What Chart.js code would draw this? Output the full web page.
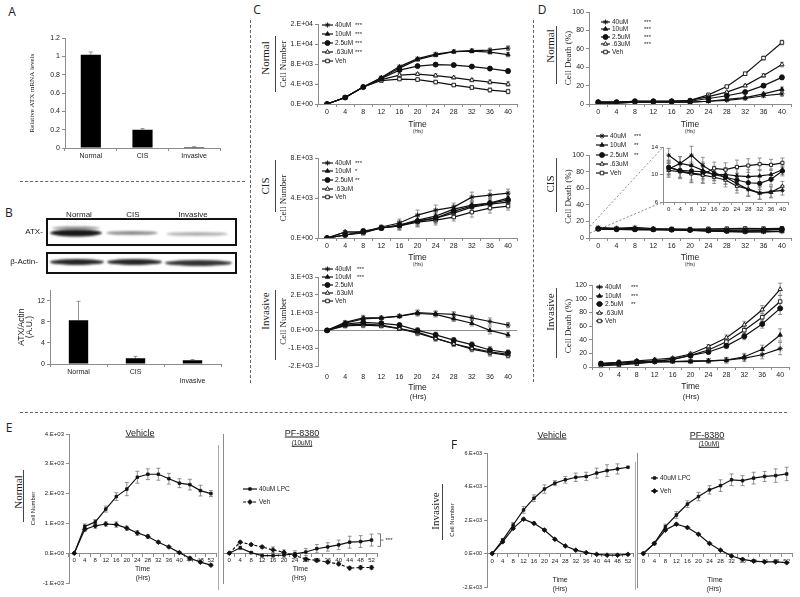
<!DOCTYPE html>
<html>
<head>
<meta charset="utf-8">
<script src="https://cdn.jsdelivr.net/npm/chart.js@4.4.1/dist/chart.umd.min.js"></script>
<style>
  html, body { margin: 0; padding: 0; background: #fff; }
  #page { position: relative; width: 800px; height: 597px; overflow: hidden; color: #222; }
  #page canvas { position: absolute; }
  .t { position: absolute; white-space: nowrap; line-height: 1; }
</style>
</head>
<body>
<div id="page"></div>
<script>
// ---------- data ----------
var hrs40 = ['0','4','8','12','16','20','24','28','32','36','40'];
var hrs52 = ['0','4','8','12','16','20','24','28','32','36','40','44','48','52'];
var doseLabels = ['40uM', '10uM', '2.5uM', '.63uM', 'Veh'];
var lpcLabels = ['40uM LPC', 'Veh'];

// A - ATX mRNA
var mrnaCats = ['Normal', 'CIS', 'Invasive'];
var mrnaVals = [1.02, 0.20, 0.01];
var mrnaErr = [0.03, 0.012, 0.004];

// B - ATX / actin densitometry
var blotCats = ['Normal', 'CIS', 'Invasive'];
var blotVals = [8.3, 1.1, 0.7];
var blotErr = [3.6, 0.35, 0.15];

// C - cell number
var cNormal40 = [0, 1300, 3400, 5300, 7500, 9100, 10000, 10500, 10700, 10800, 11200];
var cNormal10 = [0, 1300, 3400, 5200, 7200, 8900, 9800, 10500, 10600, 10400, 9900];
var cNormal25 = [0, 1300, 3400, 5100, 6800, 7600, 7900, 7800, 7500, 7100, 6600];
var cNormal063 = [0, 1300, 3400, 4900, 5800, 6000, 5700, 5300, 4800, 4400, 4000];
var cNormalVeh = [0, 1300, 3400, 4700, 5000, 4900, 4400, 3800, 3300, 2800, 2500];
var cNormalErr = [0, 200, 200, 250, 300, 300, 350, 300, 350, 400, 450];

var cCis40 = [0, 600, 600, 1100, 1500, 2300, 2800, 3100, 4100, 4300, 4500];
var cCis10 = [0, 300, 600, 1000, 1300, 1800, 2200, 2900, 3300, 3500, 4000];
var cCis25 = [0, 300, 700, 1000, 1300, 1700, 2000, 2700, 3200, 3500, 3800];
var cCis063 = [0, 600, 600, 1000, 1200, 1700, 2000, 2500, 3100, 3400, 3600];
var cCisVeh = [0, 300, 500, 1000, 1200, 1600, 1800, 2100, 2600, 3000, 3200];
var cCisErr = [0, 150, 200, 200, 400, 500, 500, 400, 500, 500, 400];

var cInv40 = [0, 450, 700, 700, 800, 1000, 950, 900, 700, 500, 300];
var cInv10 = [0, 400, 650, 700, 800, 950, 900, 650, 400, 0, -250];
var cInv25 = [0, 350, 450, 400, 300, 0, -250, -550, -800, -1100, -1250];
var cInv063 = [0, 300, 350, 300, 100, -100, -450, -750, -1000, -1200, -1350];
var cInvVeh = [0, 250, 300, 250, 100, -150, -450, -750, -1050, -1250, -1400];
var cInvErr = [0, 100, 150, 100, 100, 150, 150, 150, 150, 200, 150];

// D - cell death (%)
var dNormal40 = [1, 1, 2, 2, 2, 2, 3, 4, 6, 9, 11];
var dNormal10 = [1, 1, 2, 2, 2, 2, 3, 5, 7, 11, 16];
var dNormal25 = [2, 2, 3, 3, 3, 3, 6, 9, 13, 20, 29];
var dNormal063 = [2, 2, 3, 3, 3, 4, 8, 13, 20, 31, 43];
var dNormalVeh = [2, 2, 3, 3, 3, 4, 10, 19, 33, 50, 67];
var dNormalErr = [0.5, 0.5, 0.5, 0.5, 0.5, 1, 1, 1, 1.5, 2, 2.5];

var dCis40 = [12.8, 11.6, 12.8, 11.3, 10.3, 9.6, 8.7, 7.8, 7.3, 7.5, 7.7];
var dCis10 = [10.8, 11.6, 11.3, 10.6, 10.0, 10.0, 9.8, 9.7, 9.8, 10.0, 10.7];
var dCis25 = [11.0, 10.6, 10.5, 10.4, 10.0, 9.6, 9.2, 8.8, 8.7, 9.3, 10.5];
var dCis063 = [10.6, 10.4, 10.1, 9.9, 9.6, 9.2, 8.3, 7.9, 7.3, 7.4, 8.3];
var dCisVeh = [11.1, 10.5, 10.2, 10.0, 10.9, 10.7, 11.1, 11.3, 11.5, 11.4, 11.7];
var dCisErr = [1.0, 1.0, 1.3, 1.2, 0.9, 1.0, 1.0, 1.0, 0.9, 0.8, 0.7];

var dInv40 = [3, 4, 6, 7, 8, 9, 9, 10, 13, 18, 27];
var dInv10 = [5, 6, 7, 8, 8, 8, 9, 10, 15, 26, 47];
var dInv25 = [5, 6, 8, 9, 11, 17, 22, 31, 45, 63, 86];
var dInv063 = [5, 7, 9, 11, 13, 19, 30, 43, 62, 84, 114];
var dInvVeh = [2, 3, 5, 8, 11, 17, 25, 37, 54, 73, 96];
var dInvErr = [3, 3, 2, 2, 2, 3, 3, 4, 5, 6, 9];

// E - normal cells, LPC rescue
var eVehLpc = [0, 900, 1050, 1480, 1900, 2150, 2550, 2650, 2650, 2500, 2350, 2300, 2100, 2000];
var eVehLpcErr = [0, 80, 80, 100, 130, 220, 200, 180, 200, 180, 150, 180, 180, 100];
var eVehVeh = [0, 800, 920, 980, 960, 840, 680, 560, 370, 210, 20, -170, -300, -400];
var eVehVehErr = [0, 60, 80, 70, 90, 70, 80, 60, 40, 30, 30, 50, 40, 40];
var ePfLpc = [0, 180, 20, -80, -80, -60, -20, 40, 150, 210, 280, 370, 390, 440];
var ePfLpcErr = [0, 60, 40, 60, 80, 80, 100, 120, 140, 140, 160, 200, 200, 200];
var ePfVeh = [0, 370, 290, 210, 110, 30, -80, -200, -240, -300, -360, -500, -480, -480];
var ePfVehErr = [0, 40, 40, 50, 100, 80, 80, 60, 60, 50, 60, 60, 60, 60];

// F - invasive cells, LPC rescue
var fVehLpc = [0, 800, 1700, 2600, 3300, 3850, 4200, 4400, 4550, 4600, 4800, 4950, 5050, 5150];
var fVehLpcErr = [0, 100, 150, 200, 200, 250, 150, 200, 250, 250, 300, 350, 300, 0];
var fVehVeh = [0, 700, 1500, 2050, 1800, 1400, 850, 450, 200, 50, -50, -100, -100, -50];
var fVehVehErr = [0, 50, 60, 60, 80, 80, 60, 50, 40, 30, 30, 30, 30, 30];
var fPfLpc = [0, 600, 1600, 2300, 2950, 3400, 3800, 4050, 4400, 4350, 4500, 4600, 4650, 4750];
var fPfLpcErr = [0, 80, 150, 200, 200, 250, 250, 350, 350, 300, 350, 300, 400, 400];
var fPfVeh = [0, 600, 1400, 1750, 1550, 1150, 600, 200, -150, -350, -450, -500, -500, -550];
var fPfVehErr = [0, 50, 60, 60, 60, 40, 40, 40, 40, 50, 50, 40, 40, 40];

// ---------- setup ----------
var AXIS = '#8c8c8c', INK = '#111', TXT = '#222', ERRC = '#777';
var SANS = "'Liberation Sans', Arial, sans-serif";
var SERIF = "'Liberation Serif', 'Times New Roman', serif";
var page = document.getElementById('page');

Chart.defaults.font.family = SANS;
Chart.defaults.font.size = 7;
Chart.defaults.color = TXT;

function fmtE(v) {
  if (v === 0) return '0.E+00';
  var e = Math.floor(Math.log10(Math.abs(v)));
  var m = Math.round(v / Math.pow(10, e));
  if (Math.abs(m) === 10) { m = m / 10; e += 1; }
  return m + '.E' + (e < 0 ? '-' : '+') + String(Math.abs(e)).padStart(2, '0');
}

function addCanvas(left, top, w, h) {
  var c = document.createElement('canvas');
  c.width = w; c.height = h;
  c.style.left = left + 'px'; c.style.top = top + 'px';
  c.style.width = w + 'px'; c.style.height = h + 'px';
  page.appendChild(c);
  return c;
}

function txt(s, x, y, size, o) {
  o = o || {};
  var d = document.createElement('div');
  d.className = 't';
  d.textContent = s;
  d.style.left = x + 'px'; d.style.top = y + 'px';
  d.style.fontSize = size + 'px';
  d.style.fontFamily = o.serif ? SERIF : (o.font || SANS);
  d.style.transform = 'translate(-50%,-50%)' + (o.rot ? ' rotate(-90deg)' : '');
  if (o.u) d.style.textDecoration = 'underline';
  page.appendChild(d);
}

function rule(x1, y1, x2, y2, o) {
  o = o || {};
  var d = document.createElement('div');
  d.style.position = 'absolute';
  var st = (o.dash ? 'dashed ' : 'solid ') + (o.c || '#555');
  if (y1 === y2) {
    d.style.left = x1 + 'px'; d.style.top = y1 + 'px'; d.style.width = (x2 - x1) + 'px';
    d.style.borderTop = (o.w || 1) + 'px ' + st;
  } else {
    d.style.left = x1 + 'px'; d.style.top = y1 + 'px'; d.style.height = (y2 - y1) + 'px';
    d.style.borderLeft = (o.w || 1) + 'px ' + st;
  }
  page.appendChild(d);
}

// error bars, inline legends and small annotations
var extras = {
  id: 'extras',
  beforeDatasetsDraw: function(chart) {
    var ctx = chart.ctx, ys = chart.scales.y;
    chart.data.datasets.forEach(function(ds, di) {
      if (!ds.err) return;
      var meta = chart.getDatasetMeta(di);
      meta.data.forEach(function(el, i) {
        var e = ds.err[i];
        if (!e) return;
        var v = ds.data[i];
        var yTop = ys.getPixelForValue(v + e);
        var yBot = ds.errUp ? el.y : ys.getPixelForValue(v - e);
        ctx.save();
        ctx.strokeStyle = ERRC; ctx.lineWidth = 0.8;
        ctx.beginPath();
        ctx.moveTo(el.x, yTop); ctx.lineTo(el.x, yBot);
        ctx.moveTo(el.x - 2, yTop); ctx.lineTo(el.x + 2, yTop);
        if (!ds.errUp) { ctx.moveTo(el.x - 2, yBot); ctx.lineTo(el.x + 2, yBot); }
        ctx.stroke();
        ctx.restore();
      });
    });
  },
  afterDraw: function(chart, args, o) {
    if (!o) return;
    var ctx = chart.ctx, ox = o.ox || 0, oy = o.oy || 0;
    if (o.legend) {
      var L = o.legend;
      chart.data.datasets.forEach(function(ds, i) {
        var y = L.rows[i] - oy, x0 = L.x0 - ox, x1 = L.x1 - ox;
        ctx.save();
        ctx.strokeStyle = ds.borderColor; ctx.lineWidth = ds.borderWidth;
        ctx.setLineDash(ds.borderDash || []);
        ctx.beginPath(); ctx.moveTo(x0, y); ctx.lineTo(x1, y); ctx.stroke();
        ctx.setLineDash([]);
        ctx.fillStyle = ds.pointBackgroundColor; ctx.strokeStyle = ds.pointBorderColor;
        ctx.lineWidth = ds.pointBorderWidth;
        Chart.helpers.drawPoint(ctx, { pointStyle: ds.pointStyle, radius: ds.pointRadius, borderWidth: ds.pointBorderWidth, rotation: 0 }, (x0 + x1) / 2, y);
        ctx.fillStyle = TXT; ctx.textBaseline = 'middle'; ctx.textAlign = 'left';
        ctx.font = (L.size || 6.5) + 'px ' + SANS;
        ctx.fillText(ds.label, L.tx - ox, y);
        if (L.stars && L.stars[i]) {
          ctx.font = '6px ' + SANS;
          ctx.fillText(L.stars[i], L.sx - ox, y);
        }
        ctx.restore();
      });
    }
    if (o.bracket) {
      var b = o.bracket, ys = chart.scales.y;
      var el = chart.getDatasetMeta(0).data[b.index];
      var x = el.x + 6, yh = ys.getPixelForValue(b.hi), yl = ys.getPixelForValue(b.lo), ym = (yh + yl) / 2;
      ctx.save();
      ctx.strokeStyle = '#555'; ctx.lineWidth = 0.8;
      ctx.beginPath();
      ctx.moveTo(x, yh); ctx.lineTo(x + 3, yh); ctx.lineTo(x + 3, yl); ctx.lineTo(x, yl);
      ctx.moveTo(x + 3, ym); ctx.lineTo(x + 6, ym);
      ctx.stroke();
      ctx.fillStyle = TXT; ctx.font = '6px ' + SANS; ctx.textBaseline = 'middle';
      ctx.fillText(b.text, x + 8, ym);
      ctx.restore();
    }
    if (o.zoom) {
      var z = o.zoom, ys2 = chart.scales.y, xl = chart.chartArea.left + 1;
      ctx.save();
      ctx.strokeStyle = '#555'; ctx.lineWidth = 0.7; ctx.setLineDash([2, 2]);
      ctx.beginPath();
      ctx.moveTo(xl, ys2.getPixelForValue(z.hi)); ctx.lineTo(z.top[0] - ox, z.top[1] - oy);
      ctx.moveTo(xl, ys2.getPixelForValue(z.lo)); ctx.lineTo(z.bot[0] - ox, z.bot[1] - oy);
      ctx.stroke();
      ctx.restore();
    }
  }
};
Chart.register(extras);

function lineChart(g, labels, datasets, extra) {
  var zero = !!g.zeroAxis;
  var pad = { left: 2, top: g.padT || 6, right: g.padR || 4, bottom: zero ? (g.padB || 10) : 0 };
  var left = Math.round(g.L - g.yW - pad.left);
  var top = Math.round(g.T - pad.top);
  var right = Math.round(g.R + pad.right);
  var bottom = Math.round(zero ? g.B + pad.bottom : g.B + g.xH);
  var cv = addCanvas(left, top, right - left, bottom - top);
  var ex = Object.assign({ ox: left, oy: top }, extra || {});
  return new Chart(cv, {
    type: 'line',
    data: { labels: labels, datasets: datasets },
    options: {
      responsive: false, animation: false, devicePixelRatio: 1,
      layout: { padding: pad },
      plugins: { legend: { display: false }, tooltip: { enabled: false }, extras: ex },
      scales: {
        x: {
          type: 'category', offset: true,
          position: zero ? { y: 0 } : 'bottom',
          afterFit: function(s) { s.height = g.xH; },
          border: { display: g.xBorder !== false, color: AXIS, width: 1 },
          grid: { display: g.xGrid !== false, drawOnChartArea: false, offset: true, tickLength: 3, color: AXIS },
          ticks: { font: { family: SANS, size: g.xFont || 7 }, color: TXT, padding: g.xPad != null ? g.xPad : 1, maxRotation: 0, autoSkip: false },
          title: { display: !!g.xTitle, text: g.xTitle, font: { family: SANS, size: g.xtSize || 8.5 }, color: TXT, padding: 0 }
        },
        y: {
          min: g.min, max: g.max,
          afterFit: function(s) { s.width = g.yW; },
          border: { color: AXIS, width: 1 },
          grid: {
            drawOnChartArea: !!g.zeroLine, drawTicks: g.yTicks !== false, tickLength: 3, tickColor: AXIS,
            color: function(c) { return (c.tick && c.tick.value === 0) ? AXIS : 'rgba(0,0,0,0)'; }
          },
          ticks: { display: g.yTicks !== false, stepSize: g.step, callback: g.fmt || function(v) { return v; }, font: { family: SANS, size: g.yFont || 7 }, color: TXT, padding: 2 },
          title: { display: !!g.yTitle, text: g.yTitle, font: g.ytFont, color: TXT, padding: 0 }
        }
      }
    }
  });
}

function barChart(g, labels, vals, errs) {
  var pad = { left: 2, top: 6, right: 4, bottom: 0 };
  var left = Math.round(g.L - g.yW - pad.left), top = Math.round(g.T - pad.top);
  var cv = addCanvas(left, top, Math.round(g.R + pad.right) - left, Math.round(g.B + g.xH) - top);
  return new Chart(cv, {
    type: 'bar',
    data: { labels: labels, datasets: [{ data: vals, err: errs, errUp: true, backgroundColor: '#000', barPercentage: g.bp, categoryPercentage: 1 }] },
    options: {
      responsive: false, animation: false, devicePixelRatio: 1,
      layout: { padding: pad },
      plugins: { legend: { display: false }, tooltip: { enabled: false }, extras: { ox: left, oy: top } },
      scales: {
        x: {
          afterFit: function(s) { s.height = g.xH; },
          border: { color: AXIS },
          grid: { drawOnChartArea: false, offset: true, tickLength: 3, color: AXIS },
          ticks: { font: { size: 7 }, color: TXT, padding: 1, maxRotation: 0 }
        },
        y: {
          min: 0, max: g.max,
          afterFit: function(s) { s.width = g.yW; },
          border: { color: AXIS },
          grid: { drawOnChartArea: false, tickLength: 3, color: AXIS },
          ticks: { stepSize: g.step, font: { size: 7 }, color: TXT, padding: 2, callback: function(v) { return String(Math.round(v * 10) / 10); } },
          title: { display: true, text: g.yTitle, font: g.ytFont, color: TXT, padding: 0 }
        }
      }
    }
  });
}

var doseMarks = ['star', 'triangle', 'circle', 'triangle', 'rect'];
var doseFill = ['#111', '#111', '#111', '#fff', '#fff'];
function doseSets(series, err, r) {
  return series.map(function(d, i) {
    return {
      label: doseLabels[i], data: d, err: err,
      borderColor: INK, borderWidth: 1.2, tension: 0,
      pointStyle: doseMarks[i], pointBackgroundColor: doseFill[i], pointBorderColor: INK,
      pointBorderWidth: 0.9, pointRadius: r || 2.5
    };
  });
}
function lpcSets(lpc, lpcErr, veh, vehErr, dashed) {
  return [
    { label: lpcLabels[0], data: lpc, err: lpcErr, borderColor: INK, borderWidth: 1.2, tension: 0,
      pointStyle: 'rect', pointBackgroundColor: INK, pointBorderColor: INK, pointBorderWidth: 0.8, pointRadius: 1.8 },
    { label: lpcLabels[1], data: veh, err: vehErr, borderColor: INK, borderWidth: 1.2, tension: 0,
      borderDash: dashed ? [3, 2] : [],
      pointStyle: 'rectRot', pointBackgroundColor: INK, pointBorderColor: INK, pointBorderWidth: 0.8, pointRadius: 2.4 }
  ];
}

var serif9 = { family: SERIF, size: 9 };

// ---------- panel A ----------
barChart({ L: 65, R: 220, T: 38, B: 148, yW: 37, xH: 16, max: 1.2, step: 0.2, bp: 0.39,
  yTitle: 'Relative ATX mRNA levels', ytFont: { family: SERIF, size: 7 } }, mrnaCats, mrnaVals, mrnaErr);

// ---------- panel B ----------
(function() {
  var left = 40, top = 212;
  var c = addCanvas(left, top, 200, 66);
  var ctx = c.getContext('2d');
  function band(x1, x2, y, h, a) {
    ctx.save();
    ctx.filter = 'blur(1.3px)';
    ctx.fillStyle = 'rgba(0,0,0,' + a + ')';
    ctx.beginPath();
    ctx.ellipse((x1 + x2) / 2 - left, y - top, (x2 - x1) / 2, h / 2, 0, 0, Math.PI * 2);
    ctx.fill();
    ctx.restore();
  }
  band(52, 100, 228, 3, 0.45);
  band(50, 102, 233, 7, 0.9);
  band(106, 158, 233, 4, 0.45);
  band(166, 228, 234, 4, 0.3);
  band(50, 104, 262, 6, 0.85);
  band(107, 162, 262, 6, 0.85);
  band(165, 232, 263, 6, 0.8);
  ctx.strokeStyle = '#111'; ctx.lineWidth = 2;
  ctx.strokeRect(47 - left, 219 - top, 189, 26);
  ctx.strokeRect(47 - left, 253 - top, 189, 20);
})();
barChart({ L: 50, R: 221, T: 290, B: 364, yW: 32, xH: 24, max: 14, step: 2, bp: 0.34,
  yTitle: ['ATX/Actin', '(A.U.)'], ytFont: { family: SANS, size: 8.5, lineHeight: 0.95 } },
  blotCats.map(function(c, i) { return i === 2 ? ['', c] : c; }), blotVals, blotErr);

// ---------- panel C ----------
lineChart({ L: 318, R: 518, T: 24, B: 104, yW: 40, xH: 26, min: 0, max: 16000, step: 4000, fmt: fmtE,
  xTitle: 'Time', yTitle: 'Cell Number', ytFont: serif9 }, hrs40,
  doseSets([cNormal40, cNormal10, cNormal25, cNormal063, cNormalVeh], cNormalErr),
  { legend: { rows: [25, 34, 43, 52, 61], x0: 322, x1: 333, tx: 335, sx: 355, stars: ['***', '***', '***', '***', ''] } });

lineChart({ L: 318, R: 518, T: 158, B: 238, yW: 40, xH: 25, min: 0, max: 8000, step: 4000, fmt: fmtE,
  xTitle: 'Time', yTitle: 'Cell Number', ytFont: serif9 }, hrs40,
  doseSets([cCis40, cCis10, cCis25, cCis063, cCisVeh], cCisErr),
  { legend: { rows: [163, 171, 180, 189, 197], x0: 322, x1: 333, tx: 335, sx: 355, stars: ['***', '*', '**', '', ''] } });

lineChart({ L: 318, R: 518, T: 277, B: 366, yW: 40, xH: 27, padT: 14, min: -2000, max: 3000, step: 1000, fmt: fmtE,
  xBorder: false, xGrid: false, xPad: 4, zeroLine: true,
  xTitle: 'Time', yTitle: 'Cell Number', ytFont: serif9 }, hrs40,
  doseSets([cInv40, cInv10, cInv25, cInv063, cInvVeh], cInvErr),
  { legend: { rows: [269, 277, 285, 293, 301], x0: 322, x1: 333, tx: 335, sx: 357, stars: ['***', '***', '', '', ''] } });

// ---------- panel D ----------
lineChart({ L: 589, R: 792, T: 12, B: 104, yW: 26, xH: 26, min: 0, max: 100, step: 20,
  xTitle: 'Time', yTitle: 'Cell Death (%)', ytFont: serif9 }, hrs40,
  doseSets([dNormal40, dNormal10, dNormal25, dNormal063, dNormalVeh], dNormalErr),
  { legend: { rows: [22, 29, 37, 44, 52], x0: 601, x1: 610, tx: 612, sx: 644, stars: ['***', '***', '***', '***', ''] } });

lineChart({ L: 589, R: 792, T: 155, B: 238, yW: 26, xH: 25, padT: 26, min: 0, max: 100, step: 20,
  xTitle: 'Time', yTitle: 'Cell Death (%)', ytFont: serif9 }, hrs40,
  doseSets([dCis40, dCis10, dCis25, dCis063, dCisVeh], null),
  { legend: { rows: [136, 145, 155, 164, 173], x0: 596, x1: 608, tx: 610, sx: 634, stars: ['***', '**', '**', '', ''] },
    zoom: { hi: 14, lo: 6, top: [663, 147], bot: [663, 202] } });

lineChart({ L: 663, R: 789, T: 147, B: 202, yW: 14, xH: 12, min: 6, max: 14, step: 4, xFont: 6, yFont: 6 }, hrs40,
  doseSets([dCis40, dCis10, dCis25, dCis063, dCisVeh], dCisErr, 2.2));

lineChart({ L: 592, R: 790, T: 285, B: 367, yW: 29, xH: 25, min: 0, max: 120, step: 20,
  xTitle: 'Time', yTitle: 'Cell Death (%)', ytFont: serif9 }, hrs40,
  doseSets([dInv40, dInv10, dInv25, dInv063, dInvVeh], dInvErr),
  { legend: { rows: [287, 296, 304, 313, 321], x0: 596, x1: 603, tx: 605, sx: 631, stars: ['***', '***', '**', '', ''] } });

// ---------- panel E ----------
lineChart({ L: 68.7, R: 217, T: 434, B: 583, yW: 39, xH: 20, padB: 12, zeroAxis: true, min: -1000, max: 4000, step: 1000, fmt: fmtE,
  xFont: 6, yFont: 6, xtSize: 7, xTitle: 'Time', yTitle: 'Cell Number', ytFont: { family: SANS, size: 6 } }, hrs52,
  lpcSets(eVehLpc, eVehLpcErr, eVehVeh, eVehVehErr, false));

lineChart({ L: 220.5, R: 377.3, T: 434, B: 583, yW: 0, xH: 20, padB: 12, padR: 28, zeroAxis: true, min: -1000, max: 4000, yTicks: false,
  xFont: 6, xtSize: 7, xTitle: 'Time' }, hrs52,
  lpcSets(ePfLpc, ePfLpcErr, ePfVeh, ePfVehErr, true),
  { legend: { rows: [489, 502], x0: 243, x1: 257, tx: 259, size: 6.5 },
    bracket: { index: 13, hi: 650, lo: 230, text: '***' } });

// ---------- panel F ----------
lineChart({ L: 486.7, R: 634.4, T: 453, B: 587, yW: 38, xH: 31, padB: 6, zeroAxis: true, min: -2000, max: 6000, step: 2000, fmt: fmtE,
  xFont: 6, yFont: 5.5, xtSize: 7, xTitle: 'Time', yTitle: 'Cell Number', ytFont: { family: SANS, size: 6 } }, hrs52,
  lpcSets(fVehLpc, fVehLpcErr, fVehVeh, fVehVehErr, false));

lineChart({ L: 635, R: 793, T: 453, B: 587, yW: 0, xH: 31, padB: 6, zeroAxis: true, min: -2000, max: 6000, yTicks: false,
  xFont: 6, xtSize: 7, xTitle: 'Time' }, hrs52,
  lpcSets(fPfLpc, fPfLpcErr, fPfVeh, fPfVehErr, false),
  { legend: { rows: [478, 491], x0: 651, x1: 658, tx: 660, size: 6.5 } });

// ---------- labels and separators ----------
var panelFont = "'Open Sans', sans-serif";
txt('A', 12, 12, 12, { font: panelFont });
txt('B', 9, 213, 12, { font: panelFont });
txt('C', 257, 10, 12, { font: panelFont });
txt('D', 542, 10, 12, { font: panelFont });
txt('E', 9, 428, 12, { font: panelFont });
txt('F', 454, 445, 12, { font: panelFont });

txt('Normal', 79, 215, 8, { u: true });
txt('CIS', 133, 215, 8, { u: true });
txt('Invasive', 193, 215, 8, { u: true });
txt('ATX-', 34, 232, 8);
txt('\u03B2-Actin-', 24, 262, 8);

txt('Normal', 265, 58, 11, { serif: true, rot: true }); rule(275, 36, 275, 92, { w: 1.5, c: '#444' });
txt('CIS', 265, 186, 11, { serif: true, rot: true }); rule(275, 160, 275, 212, { w: 1.5, c: '#444' });
txt('Invasive', 265, 311, 11, { serif: true, rot: true }); rule(275, 290, 275, 360, { w: 1.5, c: '#444' });
txt('Normal', 550, 46, 11, { serif: true, rot: true }); rule(556, 26, 556, 84, { w: 1.5, c: '#444' });
txt('CIS', 550, 184, 11, { serif: true, rot: true }); rule(556, 158, 556, 212, { w: 1.5, c: '#444' });
txt('Invasive', 550, 312, 11, { serif: true, rot: true }); rule(556, 288, 556, 358, { w: 1.5, c: '#444' });
txt('Normal', 18, 492, 11, { serif: true, rot: true }); rule(23, 470, 23, 522, { w: 1.5, c: '#444' });
txt('Invasive', 435, 511, 11, { serif: true, rot: true }); rule(442, 484, 442, 540, { w: 1.5, c: '#444' });

txt('(Hrs)', 418, 132, 4.5); txt('(Hrs)', 418, 265, 4.5); txt('(Hrs)', 418, 397, 7.5);
txt('(Hrs)', 690, 132, 4.5); txt('(Hrs)', 690, 265, 4.5); txt('(Hrs)', 691, 397, 7.5);
txt('(Hrs)', 143, 578, 6.5); txt('(Hrs)', 299, 578, 6.5);
txt('(Hrs)', 560, 589, 6.5); txt('(Hrs)', 714, 589, 6.5);

txt('Vehicle', 140, 433, 9, { u: true });
txt('PF-8380', 302, 433, 9, { u: true });
txt('(10uM)', 302, 443, 6.5, { u: true });
txt('Vehicle', 552, 435, 9, { u: true });
txt('PF-8380', 707, 435, 9, { u: true });
txt('(10uM)', 709, 444, 6.5, { u: true });

rule(20, 181, 245, 181, { dash: true, c: '#666' });
rule(250, 20, 250, 383, { dash: true, c: '#666' });
rule(533, 20, 533, 382, { dash: true, c: '#666' });
rule(20, 412, 787, 412, { dash: true, c: '#666' });
rule(218, 445, 218, 590, { c: '#aaa' });
rule(635, 462, 635, 590, { c: '#aaa' });
</script>
</body>
</html>
